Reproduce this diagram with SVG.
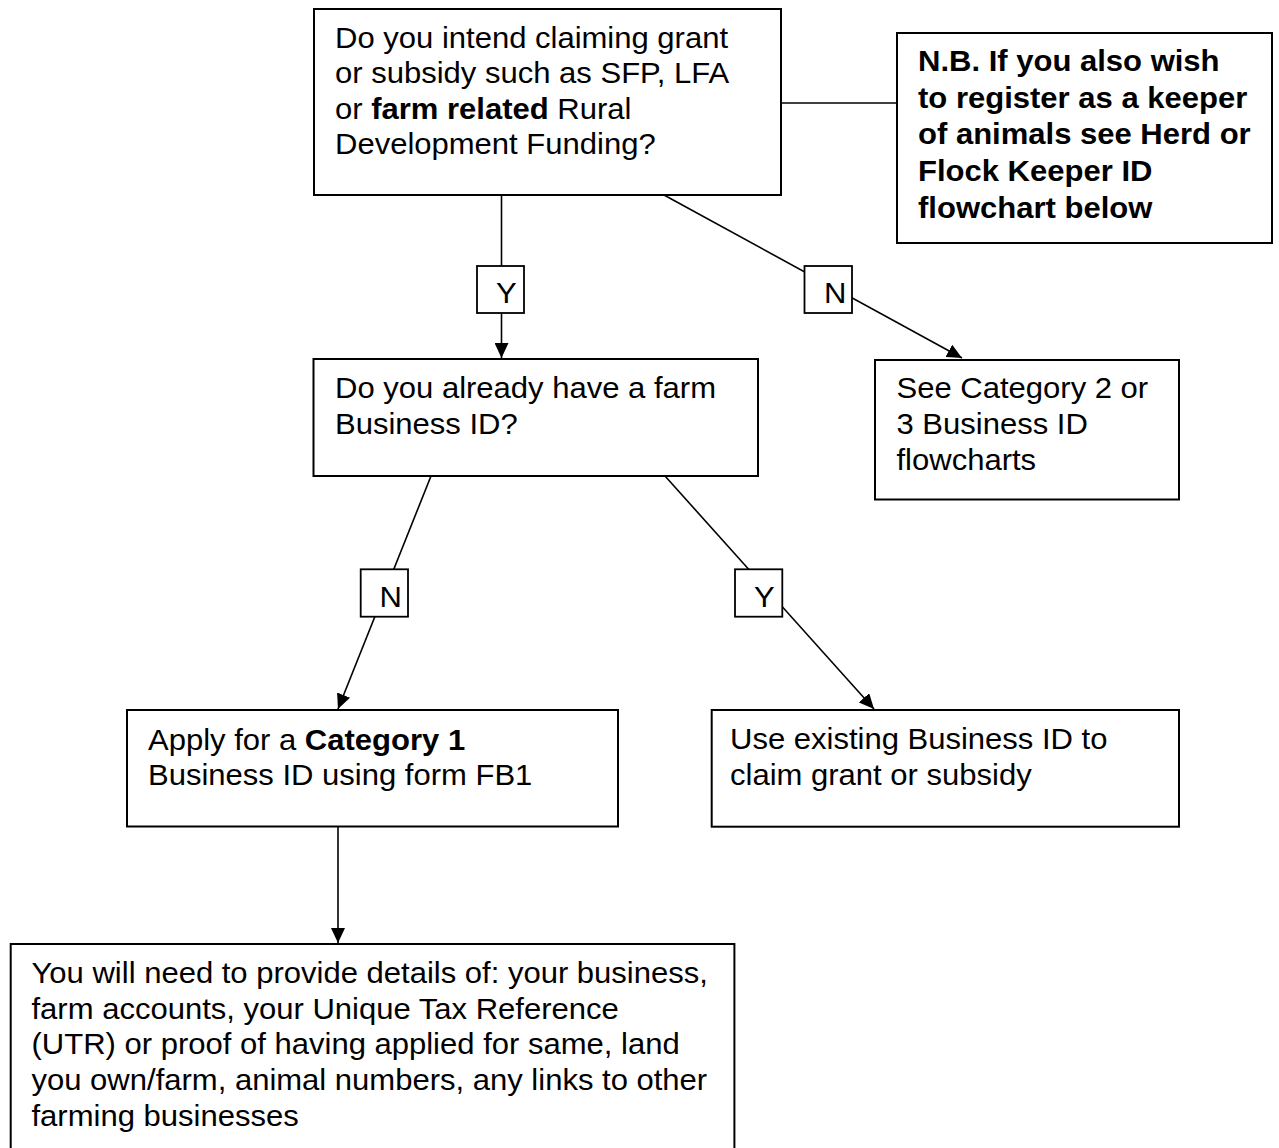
<svg xmlns="http://www.w3.org/2000/svg" width="1279" height="1148" viewBox="0 0 1279 1148">
<style>
.box{fill:#fff;stroke:#000;stroke-width:2}
.lbl{fill:#fff;stroke:#000;stroke-width:1.8}
.con{fill:none;stroke:#000;stroke-width:1.6}
text{font-family:"Liberation Sans",Arial,sans-serif;font-size:29px;fill:#000}
.b{font-weight:bold}
</style>
<defs>
<marker id="ah" markerUnits="userSpaceOnUse" markerWidth="16" markerHeight="14" refX="15" refY="7" orient="auto">
<path d="M0,0 L15,7 L0,14 z" fill="#000"/>
</marker>
</defs>
<rect width="1279" height="1148" fill="#fff"/>
<g id="connectors">
<line class="con" x1="781" y1="103" x2="897" y2="103"/>
<line class="con" x1="501.5" y1="195" x2="501.5" y2="358" marker-end="url(#ah)"/>
<line class="con" x1="664" y1="195" x2="962" y2="358" marker-end="url(#ah)"/>
<line class="con" x1="431" y1="476" x2="338" y2="709" marker-end="url(#ah)"/>
<line class="con" x1="665" y1="476" x2="874" y2="709" marker-end="url(#ah)"/>
<line class="con" x1="338" y1="827" x2="338" y2="943" marker-end="url(#ah)"/>
</g>
<g id="q1">
<rect class="box" x="314" y="9" width="467" height="186"/>
<text transform="matrix(1.07 0 0 1 335 0)"><tspan x="0" y="48">Do you intend claiming grant</tspan><tspan x="0" y="83.5">or subsidy such as SFP, LFA</tspan><tspan x="0" y="119">or <tspan class="b">farm related</tspan> Rural</tspan><tspan x="0" y="154.5">Development Funding?</tspan></text>
</g>
<g id="nb">
<rect class="box" x="897" y="33" width="375" height="210"/>
<text class="b" transform="matrix(1.07 0 0 1 918 0)"><tspan x="0" y="71">N.B. If you also wish</tspan><tspan x="0" y="107.7">to register as a keeper</tspan><tspan x="0" y="144.3">of animals see Herd or</tspan><tspan x="0" y="181">Flock Keeper ID</tspan><tspan x="0" y="217.7">flowchart below</tspan></text>
</g>
<g id="lblY1">
<rect class="lbl" x="477" y="266" width="47" height="47"/>
<text transform="matrix(1.07 0 0 1 496 0)" x="0" y="303.3">Y</text>
</g>
<g id="lblN1">
<rect class="lbl" x="804.5" y="266" width="47.5" height="47"/>
<text transform="matrix(1.07 0 0 1 824 0)" x="0" y="303.3">N</text>
</g>
<g id="q2">
<rect class="box" x="313.5" y="359" width="444.5" height="117"/>
<text transform="matrix(1.07 0 0 1 335 0)"><tspan x="0" y="398">Do you already have a farm</tspan><tspan x="0" y="434">Business ID?</tspan></text>
</g>
<g id="cat23">
<rect class="box" x="875" y="360" width="304" height="139.5"/>
<text transform="matrix(1.07 0 0 1 896.5 0)"><tspan x="0" y="398.3">See Category 2 or</tspan><tspan x="0" y="434.5">3 Business ID</tspan><tspan x="0" y="470.5">flowcharts</tspan></text>
</g>
<g id="lblN2">
<rect class="lbl" x="360.7" y="569.3" width="47.3" height="47.4"/>
<text transform="matrix(1.07 0 0 1 379.5 0)" x="0" y="606.7">N</text>
</g>
<g id="lblY2">
<rect class="lbl" x="735" y="569.3" width="47.3" height="47.4"/>
<text transform="matrix(1.07 0 0 1 754 0)" x="0" y="606.7">Y</text>
</g>
<g id="apply">
<rect class="box" x="127" y="710" width="491" height="116.5"/>
<text transform="matrix(1.07 0 0 1 148 0)"><tspan x="0" y="750">Apply for a <tspan class="b">Category 1</tspan></tspan><tspan x="0" y="785.5">Business ID using form FB1</tspan></text>
</g>
<g id="existing">
<rect class="box" x="711.7" y="710" width="467.3" height="116.7"/>
<text transform="matrix(1.07 0 0 1 730 0)"><tspan x="0" y="749.5">Use existing Business ID to</tspan><tspan x="0" y="785">claim grant or subsidy</tspan></text>
</g>
<g id="details">
<rect class="box" x="10.7" y="944" width="723.7" height="215"/>
<text transform="matrix(1.07 0 0 1 31.5 0)"><tspan x="0" y="983">You will need to provide details of: your business,</tspan><tspan x="0" y="1018.7">farm accounts, your Unique Tax Reference</tspan><tspan x="0" y="1054.4">(UTR) or proof of having applied for same, land</tspan><tspan x="0" y="1090">you own/farm, animal numbers, any links to other</tspan><tspan x="0" y="1125.8">farming businesses</tspan></text>
</g>
</svg>
